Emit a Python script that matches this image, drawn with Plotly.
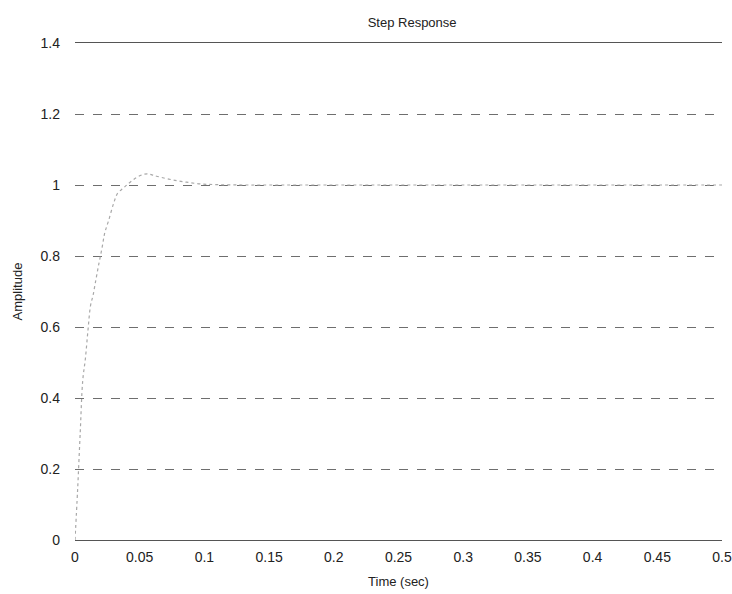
import plotly.graph_objects as go

# Step response samples
time_sec = [0, 0.002, 0.004, 0.006, 0.008, 0.010, 0.012, 0.014, 0.0155, 0.018, 0.021,
            0.023, 0.026, 0.030, 0.033, 0.037, 0.040, 0.044, 0.048, 0.053, 0.057,
            0.060, 0.066, 0.076, 0.086, 0.097, 0.11, 0.13, 0.15, 0.2, 0.25, 0.3,
            0.35, 0.4, 0.45, 0.5]
amplitude = [0, 0.14, 0.30, 0.45, 0.51, 0.59, 0.66, 0.69, 0.72, 0.77, 0.825,
             0.865, 0.90, 0.95, 0.977, 0.99, 1.0, 1.012, 1.022, 1.030, 1.031,
             1.028, 1.022, 1.014, 1.008, 1.003, 1.001, 1.0, 1.0, 1.0, 1.0, 1.0,
             1.0, 1.0, 1.0, 1.0]

x_ticks = [0, 0.05, 0.1, 0.15, 0.2, 0.25, 0.3, 0.35, 0.4, 0.45, 0.5]
x_tick_labels = ["0", "0.05", "0.1", "0.15", "0.2", "0.25", "0.3", "0.35", "0.4", "0.45", "0.5"]
y_ticks = [0, 0.2, 0.4, 0.6, 0.8, 1, 1.2, 1.4]
y_tick_labels = ["0", "0.2", "0.4", "0.6", "0.8", "1", "1.2", "1.4"]

fig = go.Figure()
fig.add_trace(go.Scatter(
    x=time_sec, y=amplitude, mode="lines",
    line=dict(color="#a8a8a8", width=1.2, dash="dot", shape="spline"),
    showlegend=False,
))

font = "Liberation Sans, Arial, sans-serif"
fig.update_layout(
    width=732, height=594,
    margin=dict(l=75, r=10, t=43, b=54),
    paper_bgcolor="white", plot_bgcolor="white",
    font=dict(family=font, size=13, color="#222"),
    title=dict(text="Step Response", x=0.563, xanchor="center", y=0.963, yanchor="middle",
               font=dict(family=font, size=13, color="#222")),
    xaxis=dict(
        range=[0, 0.5], tickvals=x_ticks, ticktext=x_tick_labels,
        showgrid=False, zeroline=False, showline=True, linecolor="#555", linewidth=1.2,
        mirror=True, ticks="", ticklabelstandoff=4, automargin=False,
        title=dict(text="Time (sec)", standoff=12, font=dict(size=13)),
        tickfont=dict(size=14),
    ),
    yaxis=dict(
        range=[0, 1.4], tickvals=y_ticks, ticktext=y_tick_labels,
        showgrid=True, gridcolor="#6e6e6e", gridwidth=1, griddash="dash",
        zeroline=False, showline=False, ticks="", ticklabelstandoff=14, automargin=False,
        title=dict(text="Amplitude", standoff=14, font=dict(size=13)),
        tickfont=dict(size=14),
    ),
)

fig.write_html("out.html", config={"displayModeBar": False},
               post_script="document.body.style.margin='0';")
